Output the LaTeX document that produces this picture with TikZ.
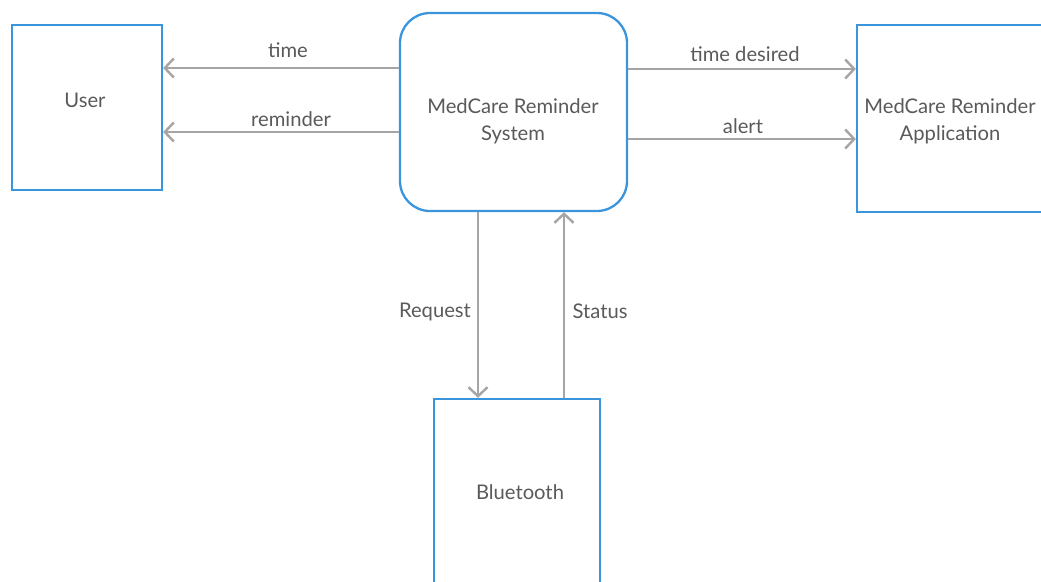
\documentclass[tikz,border=0pt]{standalone}
\usepackage{fontspec}
\setmainfont{Lato}
\newfontfamily\latoti{Lato}[Ligatures={Common,Rare}]
\usetikzlibrary{arrows.meta}
\definecolor{boxblue}{HTML}{3A95DC}
\definecolor{arrgray}{HTML}{A5A5A5}
\definecolor{txtgray}{HTML}{5A5A5A}
\begin{document}
\begin{tikzpicture}[x=1pt,y=-1pt,
  box/.style={draw=boxblue, line width=2.3pt, inner sep=0pt, fill=white},
  lbl/.style={text=txtgray, font=\fontsize{20.2}{27}\selectfont, align=center, inner sep=1pt},
  tilbl/.style={lbl, font=\fontsize{20.2}{27}\selectfont\latoti},
  flow/.style={draw=arrgray, line width=2.4pt, -{Straight Barb[length=9pt,width=19pt,line width=2.4pt]}}]
\useasboundingbox (0,0) rectangle (1041,581);
\clip (0,0) rectangle (1041,581);
% boxes
\node[box, minimum width=150pt, minimum height=165pt] (user) at (87,107.5) {};
\node[box, rounded corners=30pt, minimum width=227pt, minimum height=198pt] (sys) at (513.5,112) {};
\node[box, minimum width=203pt, minimum height=187pt] (app) at (958.5,118.5) {};
\node[box, minimum width=166pt, minimum height=201pt] (bt) at (517,499.5) {};
% box texts
\node[lbl] (usert) at (85,100) {User};
\node[lbl] (syst) at (513,121.5) {MedCare Reminder\\System};
\node[tilbl] (appt) at (950,121.5) {MedCare Reminder\\Application};
\node[lbl] (btt) at (520,492) {Bluetooth};
% connectors
\draw[flow] (sys.west |- 0,68) -- (user.east |- 0,68);
\draw[flow] (sys.west |- 0,132) -- (user.east |- 0,132);
\draw[flow] (sys.east |- 0,69) -- (app.west |- 0,69);
\draw[flow] (sys.east |- 0,139) -- (app.west |- 0,139);
\draw[flow] (sys.south -| 478,0) -- (bt.north -| 478,0);
\draw[flow] (bt.north -| 564,0) -- (sys.south -| 564,0);
% connector labels
\node[tilbl] (l1) at (288,50) {time};
\node[lbl] (l2) at (291,119) {reminder};
\node[tilbl] (l3) at (745,54) {time desired};
\node[lbl] (l4) at (743,126) {alert};
\node[lbl] (l5) at (435,312) {Request};
\node[lbl] (l6) at (600,311) {Status};
\end{tikzpicture}
\end{document}
